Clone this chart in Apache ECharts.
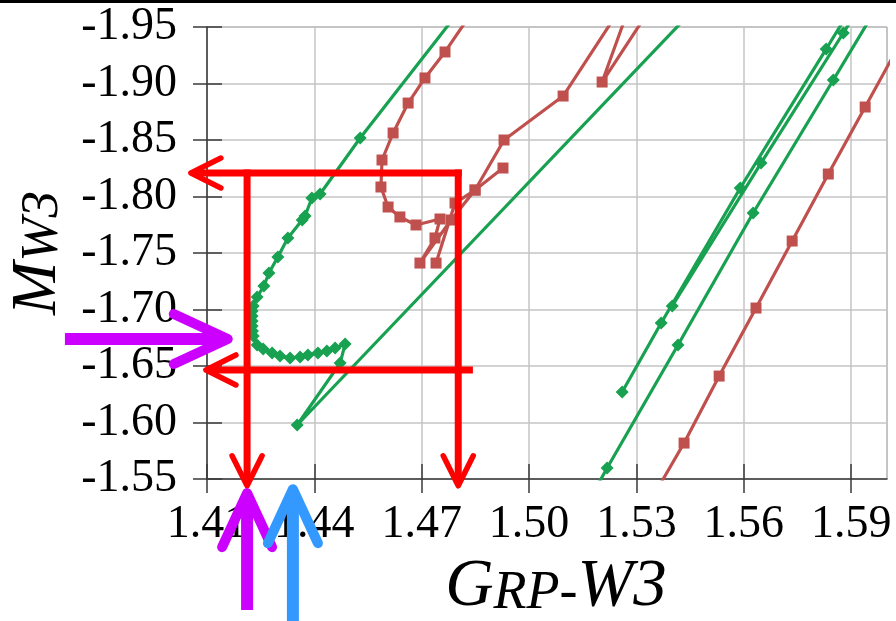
<!DOCTYPE html>
<html>
<head>
    <meta charset="utf-8">
    <title>GRP-W3 / MW3</title>
    <script src="https://cdn.jsdelivr.net/npm/echarts@6/dist/echarts.min.js"></script>
    <style>
        html, body {
            height: 100%;
            margin: 0;
            padding: 0;
            background-color: #fff;
        }
    </style>
</head>
<body>
<div id="chart-box" style="width:896px; height:621px;"></div>
<script type="text/javascript">
    // tick positions
    const xTicks = [1.41, 1.44, 1.47, 1.50, 1.53, 1.56, 1.59];
    const yTicks = [-1.95, -1.90, -1.85, -1.80, -1.75, -1.70, -1.65, -1.60, -1.55];

    // green branch with the hook on the left
    const greenHook = [
        [1.4818, -1.9695], [1.4528, -1.8518], [1.4416, -1.8022], [1.4393, -1.7987],
        [1.4374, -1.7827], [1.4366, -1.7792], [1.4326, -1.7633], [1.4298, -1.7465],
        [1.4273, -1.7323], [1.4259, -1.7208], [1.4240, -1.7111], [1.4229, -1.7031],
        [1.4226, -1.6986], [1.4226, -1.6942], [1.4226, -1.6898], [1.4226, -1.6854],
        [1.4227, -1.6810], [1.4229, -1.6765], [1.4240, -1.6686], [1.4257, -1.6650],
        [1.4282, -1.6615], [1.4304, -1.6588], [1.4332, -1.6571], [1.4360, -1.6580],
        [1.4382, -1.6597], [1.4410, -1.6615], [1.4435, -1.6633], [1.4458, -1.6659],
        [1.4486, -1.6695], [1.4472, -1.6526], [1.4352, -1.5978], [1.5472, -1.9695]
    ];
    // green branches on the right
    const greenA = [[1.5936, -1.9739], [1.5878, -1.9447], [1.5648, -1.8296], [1.5400, -1.7031]];
    const greenB = [[1.5914, -1.9739], [1.5830, -1.9305], [1.5590, -1.8075], [1.5369, -1.6880], [1.5260, -1.6270]];
    const greenC = [[1.5168, -1.5314], [1.5218, -1.5597], [1.5416, -1.6686], [1.5626, -1.7854], [1.5850, -1.9031], [1.5984, -1.9739]];

    // red branches
    const redLoop = [
        [1.4902, -1.9916], [1.4765, -1.9279], [1.4709, -1.9049], [1.4662, -1.8827],
        [1.4620, -1.8562], [1.4589, -1.8323], [1.4586, -1.8084], [1.4606, -1.7907],
        [1.4639, -1.7819], [1.4684, -1.7748], [1.4751, -1.7801], [1.4737, -1.7633],
        [1.4695, -1.7411], [1.4782, -1.7792], [1.4849, -1.8057], [1.4927, -1.8252]
    ];
    const redUpper = [
        [1.4740, -1.7411], [1.4793, -1.7942], [1.4849, -1.8057], [1.4930, -1.8500],
        [1.5095, -1.8889], [1.5307, -1.9916], [1.5204, -1.9013], [1.5391, -1.9916]
    ];
    const redRight = [
        [1.6037, -1.9358], [1.5939, -1.8792], [1.5836, -1.8199], [1.5735, -1.7606],
        [1.5634, -1.7013], [1.5531, -1.6411], [1.5433, -1.5818], [1.5352, -1.5376]
    ];

    // annotation arrows [x from, y from, x to (tip), y to (tip)]
    const redArrows = [
        [1.4812, -1.8208, 1.4055, -1.8208],
        [1.4212, -1.8240, 1.4212, -1.5440],
        [1.4802, -1.8240, 1.4802, -1.5440],
        [1.4843, -1.6465, 1.4097, -1.6465]
    ];
    const purpleArrows = [
        [1.3703, -1.6739, 1.4158, -1.6739],
        [1.4212, -1.4341, 1.4212, -1.5375]
    ];
    const blueArrows = [
        [1.4340, -1.4208, 1.4340, -1.5410]
    ];

    const GREEN = "#17a151";
    const RED = "#c0504d";
    const FONT = "Liberation Serif";

    function lineSeries(data, color, symbol, size) {
        return {
            type: "line",
            data: data,
            clip: true,
            symbol: symbol,
            symbolSize: size,
            showAllSymbol: true,
            lineStyle: {color: color, width: 3.2},
            itemStyle: {color: color},
            z: 2
        };
    }

    function arrowSeries(data, color, width, head, half, armWidth) {
        return {
            type: "custom",
            data: data,
            encode: {x: [0, 2], y: [1, 3]},
            clip: false,
            silent: true,
            z: 5,
            renderItem: function (params, api) {
                const a = api.coord([api.value(0), api.value(1)]);
                const b = api.coord([api.value(2), api.value(3)]);
                const dx = b[0] - a[0], dy = b[1] - a[1];
                const len = Math.sqrt(dx * dx + dy * dy);
                const ux = dx / len, uy = dy / len;
                const bx = b[0] - ux * head, by = b[1] - uy * head;
                const end = [b[0] - ux * width * 0.8, b[1] - uy * width * 0.8];
                return {
                    type: "group",
                    children: [
                        {
                            type: "polyline",
                            shape: {points: [a, end]},
                            style: {stroke: color, lineWidth: width, fill: null}
                        },
                        {
                            type: "polyline",
                            shape: {points: [[bx - uy * half, by + ux * half], b, [bx + uy * half, by - ux * half]]},
                            style: {stroke: color, lineWidth: armWidth, fill: null, lineJoin: "round", lineCap: "round"}
                        }
                    ]
                };
            }
        };
    }

    const chart = echarts.init(document.getElementById("chart-box"));

    const option = {
        animation: false,
        backgroundColor: "#fff",
        grid: {
            left: 207, right: 9, top: 27, bottom: 142,
            outerBoundsMode: "none",
            containLabel: false,
            show: true, borderColor: "#8a8a8a", borderWidth: 1, backgroundColor: "#fff"
        },
        graphic: [
            {type: "rect", left: 0, top: 0, shape: {width: 896, height: 3}, style: {fill: "#000"}}
        ],
        xAxis: [
            {
                type: "value", min: 1.41, max: 1.60, interval: 0.03, position: "bottom",
                axisLine: {show: true, lineStyle: {color: "#3a3a3a", width: 1.5}},
                axisTick: {show: true, length: 14, customValues: xTicks, lineStyle: {color: "#3a3a3a", width: 1.5}},
                axisLabel: {
                    customValues: xTicks, margin: 23,
                    fontFamily: FONT, fontSize: 46, color: "#000",
                    formatter: v => v.toFixed(2)
                },
                splitLine: {show: true, lineStyle: {color: "#c4c4c4", width: 1.5}},
                name: "{a|G}{b|RP-}{a|W3}",
                nameLocation: "middle",
                nameGap: 75,
                nameTextStyle: {
                    padding: [0, 0, 0, 18],
                    rich: {
                        a: {fontFamily: FONT, fontStyle: "italic", fontSize: 67, lineHeight: 67, verticalAlign: "bottom", color: "#000"},
                        b: {fontFamily: FONT, fontStyle: "italic", fontSize: 54, lineHeight: 54, verticalAlign: "bottom", color: "#000"}
                    }
                }
            },
            {
                type: "value", min: 1.41, max: 1.60, interval: 0.03, position: "bottom",
                axisLine: {show: false},
                axisTick: {show: true, inside: true, length: 15, customValues: xTicks, lineStyle: {color: "#3a3a3a", width: 1.5}},
                axisLabel: {show: false},
                splitLine: {show: false}
            }
        ],
        yAxis: [
            {
                type: "value", inverse: true, min: -1.95, max: -1.55, interval: 0.05, position: "left",
                axisLine: {show: true, lineStyle: {color: "#3a3a3a", width: 1.5}},
                axisTick: {show: true, length: 14, customValues: yTicks, lineStyle: {color: "#3a3a3a", width: 1.5}},
                axisLabel: {
                    customValues: yTicks, margin: 30,
                    fontFamily: FONT, fontSize: 46, color: "#000",
                    formatter: v => v.toFixed(2)
                },
                splitLine: {show: true, lineStyle: {color: "#c4c4c4", width: 1.5}},
                name: "{a|M}{b|W3}",
                nameLocation: "middle",
                nameGap: 137,
                nameRotate: 90,
                nameTextStyle: {
                    rich: {
                        a: {fontFamily: FONT, fontStyle: "italic", fontSize: 64, lineHeight: 64, verticalAlign: "bottom", color: "#000"},
                        b: {fontFamily: FONT, fontStyle: "italic", fontSize: 53, lineHeight: 53, verticalAlign: "bottom", color: "#000"}
                    }
                }
            },
            {
                type: "value", inverse: true, min: -1.95, max: -1.55, interval: 0.05, position: "left",
                axisLine: {show: false},
                axisTick: {show: true, inside: true, length: 15, customValues: yTicks, lineStyle: {color: "#3a3a3a", width: 1.5}},
                axisLabel: {show: false},
                splitLine: {show: false}
            }
        ],
        series: [
            lineSeries(greenHook, GREEN, "diamond", 13),
            lineSeries(greenA, GREEN, "diamond", 13),
            lineSeries(greenB, GREEN, "diamond", 13),
            lineSeries(greenC, GREEN, "diamond", 13),
            lineSeries(redLoop, RED, "rect", 11),
            lineSeries(redUpper, RED, "rect", 11),
            lineSeries(redRight, RED, "rect", 11),
            arrowSeries(redArrows, "#ff0000", 7, 30, 15, 5.5),
            arrowSeries(purpleArrows, "#cc00ff", 12, 54, 25, 10),
            arrowSeries(blueArrows, "#3399ff", 12, 54, 25, 10)
        ]
    };
    chart.setOption(option);
</script>
</body>
</html>
